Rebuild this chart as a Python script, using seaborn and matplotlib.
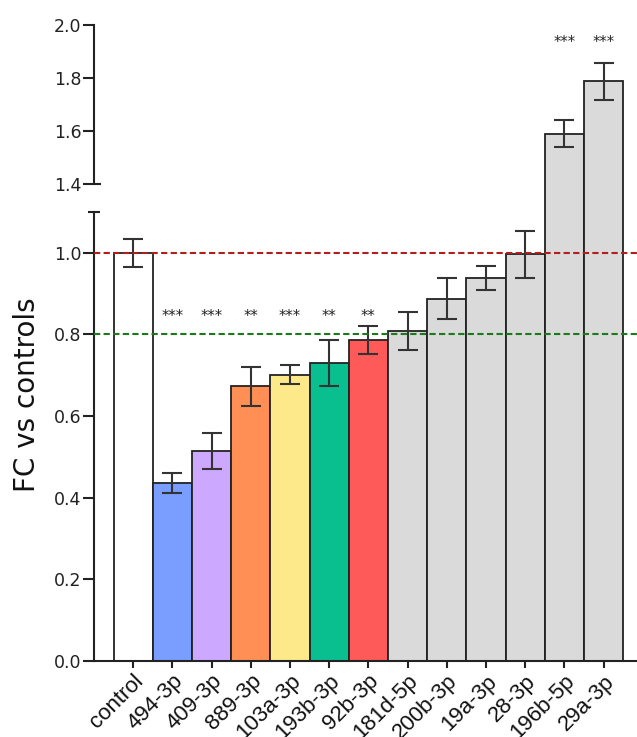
import matplotlib
matplotlib.use("Agg")
import matplotlib.pyplot as plt
import seaborn as sns
import numpy as np

labels = ["control", "494-3p", "409-3p", "889-3p", "103a-3p", "193b-3p", "92b-3p",
          "181d-5p", "200b-3p", "19a-3p", "28-3p", "196b-5p", "29a-3p"]
means = [1.000, 0.436, 0.514, 0.673, 0.701, 0.730, 0.786,
         0.809, 0.888, 0.938, 0.996, 1.590, 1.787]
errs = [0.035, 0.025, 0.044, 0.048, 0.023, 0.057, 0.035,
        0.047, 0.050, 0.030, 0.058, 0.050, 0.071]
stars = ["", "***", "***", "**", "***", "**", "**", "", "", "", "", "***", "***"]
colors = ["#ffffff", "#7a9eff", "#cca8ff", "#ff8f55", "#fde98a", "#0abf8f", "#ff5a5a",
          "#dadada", "#dadada", "#dadada", "#dadada", "#dadada", "#dadada"]
lower_ticks = [0.0, 0.2, 0.4, 0.6, 0.8, 1.0]
upper_ticks = [1.4, 1.6, 1.8, 2.0]

sns.set_style("ticks")
plt.rcParams["font.family"] = ["DejaVu Sans"]

W, H = 637, 737
fig = plt.figure(figsize=(W / 100, H / 100), dpi=100)

x_left = 94 / W
x_right = 1.0
y0 = 661
y_break_low = 212
y_top = 25
ax = fig.add_axes([x_left, 1 - y0 / H, x_right - x_left, (y0 - y_break_low) / H])
ax2 = fig.add_axes([x_left, 1 - y_break_low / H, x_right - x_left, (y_break_low - y_top) / H])

ink = "#222222"
xs = np.arange(len(labels))
upper_bottom = 1.4 - (212 - 184) / 265.0

for a in (ax, ax2):
    sns.barplot(x=labels, y=means, hue=labels, palette=colors, width=1.0,
                edgecolor=ink, linewidth=1.3, legend=False, errorbar=None,
                ax=a, saturation=1)
    a.errorbar(xs, means, yerr=errs, fmt="none", ecolor="#333333",
               elinewidth=1.5, capsize=7.5, capthick=1.5, zorder=4)
    a.set_xlim(-1, (637 - 132.5) / 39.25)
    for s in ("top", "right"):
        a.spines[s].set_visible(False)
    a.spines["left"].set_linewidth(1.5)
    a.spines["left"].set_color(ink)
    a.tick_params(axis="y", length=8, width=1.5, color=ink, labelsize=12.5,
                  labelcolor="#222222", pad=1)
    a.set_ylabel("")

# lower axis
ax.set_ylim(0, 1.1)
ax.set_yticks(lower_ticks)
ax.set_yticklabels([f"{t:.1f}" for t in lower_ticks])
ax.spines["bottom"].set_linewidth(1.5)
ax.spines["bottom"].set_color(ink)
ax.set_xticks(xs)
ax.set_xticklabels(labels, rotation=45, ha="right", rotation_mode="anchor",
                   fontsize=16, family="Liberation Sans", color="#111111")
ax.tick_params(axis="x", length=5, width=1.5, color=ink, pad=2)
ax.axhline(1.0, color="#b01e1e", lw=1.5, ls=(0, (3, 1.6)), zorder=5)
ax.axhline(0.8, color="#1c7a1c", lw=1.5, ls=(0, (3, 1.6)), zorder=5)
ax.plot([-0.011, 0.011], [1.1, 1.1], transform=ax.get_yaxis_transform(),
        color=ink, lw=1.5, clip_on=False, solid_capstyle="butt")

# upper axis
ax2.set_ylim(upper_bottom, 2.0)
ax2.set_yticks(upper_ticks)
ax2.set_yticklabels([f"{t:.1f}" for t in upper_ticks])
ax2.spines["left"].set_bounds(1.4, 2.0)
ax2.spines["bottom"].set_visible(False)
ax2.set_xticks([])
ax2.patch.set_alpha(0)
ax2.plot([0, 0.012], [1.4, 1.4], transform=ax2.get_yaxis_transform(),
         color=ink, lw=1.5, clip_on=False, solid_capstyle="butt")

for i, s in enumerate(stars):
    if not s:
        continue
    if means[i] < 1.1:
        ax.text(i, 0.834, s, ha="center", va="baseline", fontsize=10.5, color="#222222")
    else:
        ax2.text(i, 1.917, s, ha="center", va="baseline", fontsize=10.5, color="#222222")

fig.text(27 / W, 1 - 395 / H, "FC vs controls", rotation=90, ha="center", va="center",
         fontsize=20, color="#111111")

fig.savefig("out.png", dpi=100)
